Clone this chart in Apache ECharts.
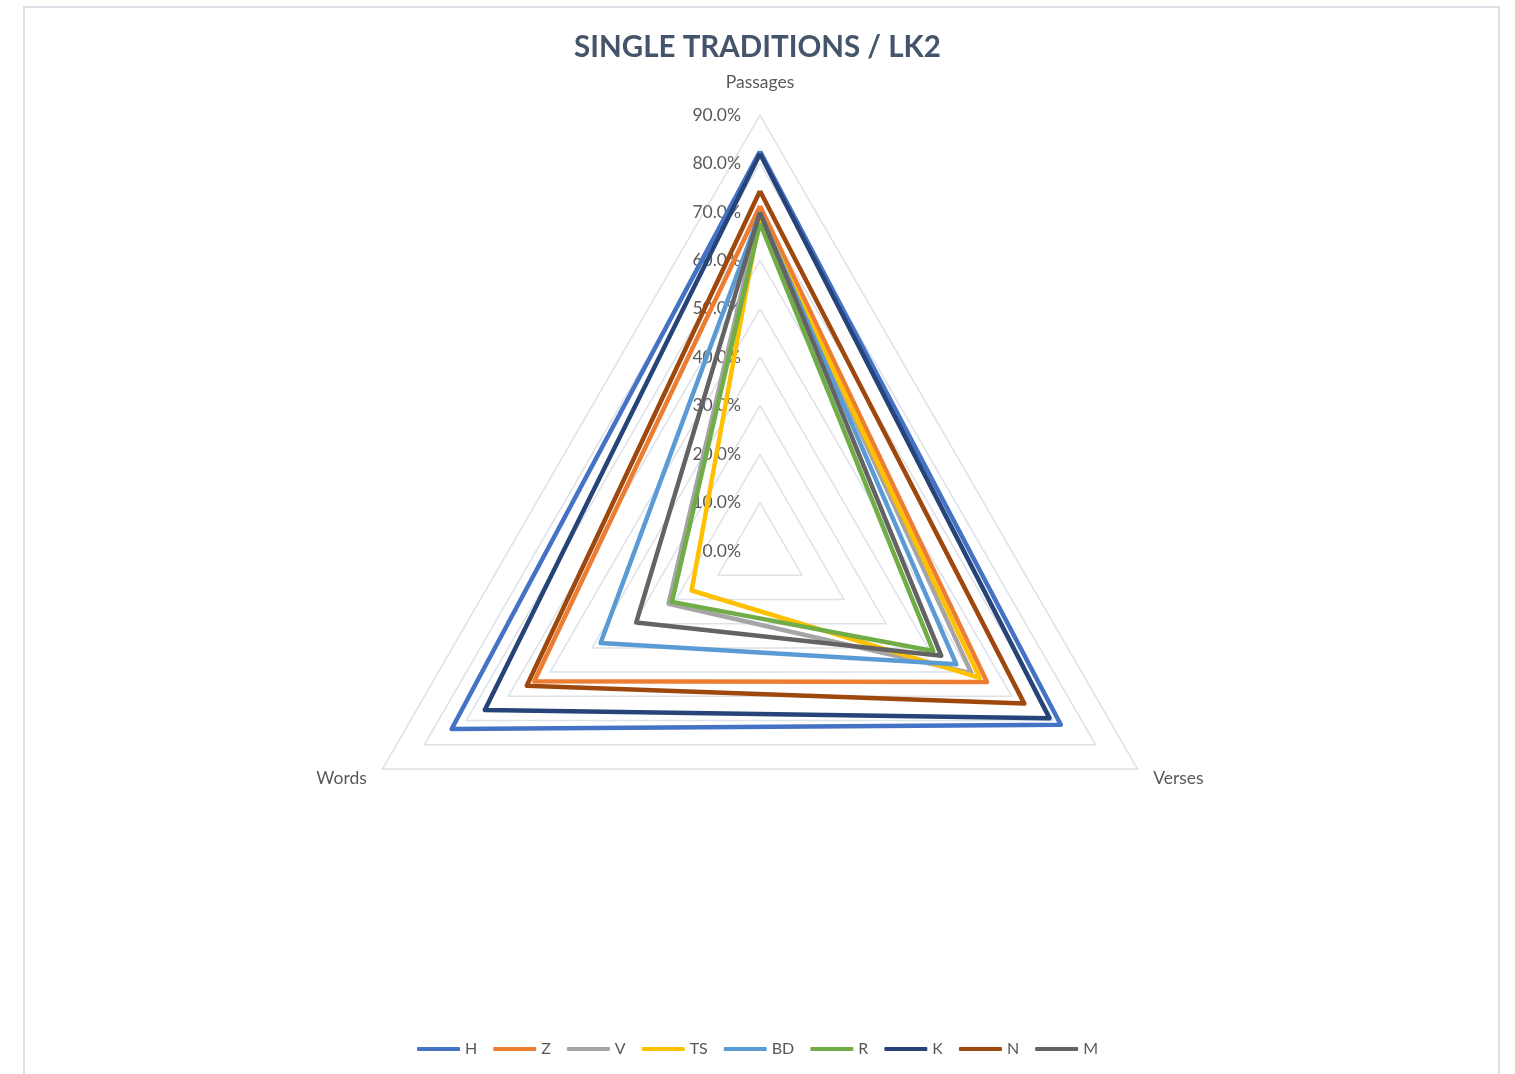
<!DOCTYPE html>
<html>
<head>
<meta charset="utf-8">
<title>Single traditions / LK2</title>
<script src="https://cdn.jsdelivr.net/npm/echarts@6/dist/echarts.min.js"></script>
<style>
  html, body { margin: 0; padding: 0; background: #fff; }
  #chart { width: 1515px; height: 1074px; }
</style>
</head>
<body>
<div id="chart"></div>
<script>
// axes (ECharts draws radar axes counter-clockwise, so Words comes second)
const axisNames = ['Passages', 'Words', 'Verses'];
const seriesNames = ['H', 'Z', 'V', 'TS', 'BD', 'R', 'K', 'N', 'M'];
const colors = ['#4472C4', '#ED7D31', '#A5A5A5', '#FFC000', '#5B9BD5', '#70AD47', '#264478', '#9E480E', '#636363'];

// values in percent
const passages = [82.5, 71.2, 69.6, 69.3, 69.8, 67.7, 82.0, 74.3, 69.9];
const words    = [73.5, 53.8, 21.8, 16.3, 38.0, 21.0, 65.6, 55.6, 29.5];
const verses   = [71.7, 54.1, 50.4, 52.4, 46.8, 41.3, 69.0, 63.0, 43.2];

const chart = echarts.init(document.getElementById('chart'));

const textColor = '#595959';
const font = 'Lato, "Open Sans", sans-serif';

const option = {
  animation: false,
  color: colors,
  title: {
    text: 'SINGLE TRADITIONS / LK2',
    left: 'center',
    top: 27,
    textStyle: { fontFamily: font, fontSize: 29.5, fontWeight: 'bold', color: '#44546A' }
  },
  legend: {
    bottom: 12,
    left: 'center',
    data: seriesNames,
    icon: 'roundRect',
    itemWidth: 43,
    itemHeight: 4,
    itemGap: 16,
    textStyle: { fontFamily: font, fontSize: 16, color: textColor }
  },
  graphic: [{
    type: 'rect',
    shape: { x: 24, y: 7, width: 1475, height: 1100 },
    style: { fill: 'none', stroke: '#dde1e8', lineWidth: 2 },
    silent: true
  }],
  radar: {
    center: [760, 551],
    radius: 436,
    shape: 'polygon',
    splitNumber: 9,
    startAngle: 90,
    nameGap: 18,
    axisName: { color: textColor, fontFamily: font, fontSize: 17.5 },
    indicator: axisNames.map((n, i) => ({
      name: n,
      min: 0,
      max: 90,
      nameGap: i === 0 ? 24 : 18,
      axisLabel: { show: i === 0 }
    })),
    axisLine: { show: false },
    axisTick: { show: false },
    axisLabel: {
      show: true,
      color: textColor,
      fontFamily: font,
      fontSize: 17.5,
      margin: 19,
      formatter: v => v.toFixed(1) + '%'
    },
    splitLine: { lineStyle: { color: '#dde1e8', width: 1.5 } },
    splitArea: { show: false }
  },
  series: [{
    type: 'radar',
    symbol: 'none',
    lineStyle: { width: 4.5 },
    data: seriesNames.map((n, i) => ({
      name: n,
      value: [passages[i], words[i], verses[i]],
      lineStyle: { color: colors[i], width: 4.5 },
      itemStyle: { color: colors[i] }
    }))
  }]
};

chart.setOption(option);
</script>
</body>
</html>
